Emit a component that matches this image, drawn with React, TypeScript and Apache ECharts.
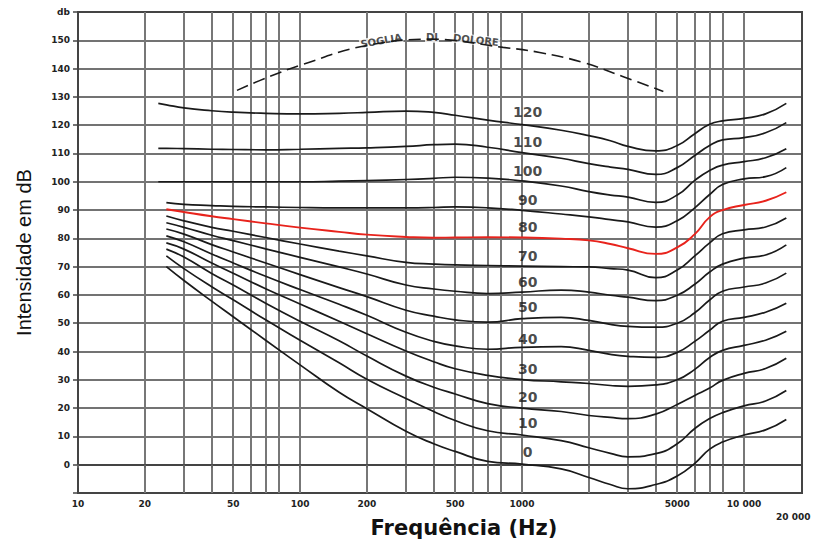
import React, { useEffect, useRef } from "react";
import * as echarts from "echarts";

// Frequencies (Hz) at which the equal-loudness curves were read
const freqs = [23, 25, 30, 40, 50, 70, 100, 150, 200, 300, 400, 500, 700, 1000, 1500, 2000, 2500, 3000, 4000, 5000, 6000, 7000, 8000, 10000, 12500, 15500];

// Curve values (dB) per phon level
const phon120 = [127.7, 127.2, 126.1, 125.1, 124.6, 124.2, 124, 124.2, 124.5, 125, 124.5, 123.5, 121.8, 120.2, 118.2, 116.3, 114.5, 112.5, 110.9, 112.8, 117, 120.3, 121.5, 122.4, 124, 127.7];
const phon110 = [111.8, 111.8, 111.7, 111.5, 111.4, 111.3, 111.5, 111.8, 112, 112.5, 113.1, 113.3, 112.2, 110.3, 108.3, 106.4, 105.2, 104.4, 102.6, 105, 109.3, 112.8, 114.8, 115.6, 117.3, 120.9];
const phon100 = [100, 100, 100, 100, 100, 100, 100, 100.2, 100.4, 100.8, 101.2, 101.6, 101.3, 100.3, 98.5, 96.5, 95.3, 94.6, 92.7, 95.3, 100.5, 104, 105.9, 107.1, 108.5, 111.7];
const phon90 = [null, 92.6, 92, 91.6, 91.3, 91.1, 90.9, 90.8, 90.8, 90.8, 90.9, 91.1, 90.8, 89.9, 88.6, 87.6, 86.6, 85.8, 84, 86.2, 90.8, 95.5, 99, 101, 101.8, 105];
const phon80 = [null, 90.3, 89.3, 87.8, 86.8, 85.3, 83.8, 82.3, 81.3, 80.5, 80.2, 80.3, 80.4, 80.3, 79.9, 79.3, 78, 76.5, 74.5, 76.8, 81.5, 87.5, 90, 91.8, 93.3, 96.3];
const phon70 = [null, 87.9, 86.2, 83.9, 82.5, 80.3, 78, 75.5, 73.8, 71.5, 70.9, 70.6, 70.4, 70.2, 70, 69.9, 69.3, 68.8, 66.1, 68.8, 73.8, 78.4, 81.6, 83, 84, 87.2];
const phon60 = [null, 85.5, 83.9, 81.1, 79.2, 76.3, 73.3, 69.9, 67.4, 63.5, 62.1, 61.3, 60.5, 61, 61.7, 61, 59.9, 59.2, 58, 59.9, 63.8, 68.1, 70.9, 73, 74.1, 77.7];
const phon50 = [null, 83.3, 81.5, 77.8, 75.2, 71.3, 67.2, 62.6, 59.4, 54.6, 52.5, 51.2, 50.4, 51.6, 52.1, 51, 49.6, 48.9, 48.6, 50, 53.7, 58.2, 61.3, 62.8, 64.2, 67.7];
const phon40 = [null, 80.9, 78.8, 74.5, 71.3, 66.6, 61.9, 56.7, 52.8, 46.8, 43.6, 42, 40.8, 41.5, 41.7, 40.4, 39, 38.3, 37.9, 39.7, 43.6, 47.5, 50.7, 52.1, 53.9, 57.1];
const phon30 = [null, 78.4, 76.2, 71.3, 67.7, 62.2, 56.8, 50.7, 46.3, 40.2, 36.4, 33.9, 31.6, 30.1, 29.3, 28.7, 28, 27.7, 28.2, 30, 33.7, 37.9, 40.4, 42.2, 44, 47.2];
const phon20 = [null, 76.2, 73.4, 67.6, 63.5, 57.1, 50.7, 43.8, 38.4, 31.3, 27.4, 25, 21.6, 20, 18.8, 17.4, 16.7, 16.3, 17.9, 21.3, 24.5, 27.1, 29.8, 32.3, 34, 37.6];
const phon10 = [null, 73.8, 69.3, 62.9, 58.3, 51.2, 44, 36, 30.2, 23.4, 18.8, 15.6, 12, 10.5, 8.5, 6, 4, 2.8, 3.9, 7.4, 12.8, 16.3, 18.4, 20.8, 22.5, 26.2];
const phon0 = [null, 70, 65.1, 57.8, 52.3, 44, 35.3, 25.6, 19.8, 11.8, 7.4, 4.7, 1.2, 0.2, -1.5, -4.5, -7, -8.5, -7, -4, 0.5, 5.5, 8, 10.5, 12.3, 16];

const curveNames = ["120", "110", "100", "90", "80", "70", "60", "50", "40", "30", "20", "10", "0"];
const curves = [phon120, phon110, phon100, phon90, phon80, phon70, phon60, phon50, phon40, phon30, phon20, phon10, phon0];

// Curve label anchors
const curveLabelFreq = 1060;
const curveLabelDb = [124.5, 114.2, 103.9, 93.6, 84, 73.8, 64.5, 55.7, 44.3, 34, 24.1, 14.9, 4.6];

// Threshold of pain (dashed)
const painFreqs = [52, 73, 103, 192, 386, 822, 1200, 1880, 2840, 4330];
const painDb = [132.3, 137.2, 141.5, 147.9, 150.4, 147.5, 145.7, 142.2, 137.2, 131.9];
const painWords = ["SOGLIA", "DI", "DOLORE"];
const painWordFreqs = [232, 393, 620];
const painWordDb = [149.9, 150.9, 150.1];

// Axes
const gridFreqs = [10, 20, 30, 40, 50, 60, 70, 80, 100, 200, 300, 400, 500, 600, 700, 800, 1000, 2000, 3000, 4000, 5000, 6000, 7000, 8000, 10000];
const labelFreqs = [10, 20, 50, 100, 200, 500, 1000, 5000, 10000];
const labelTexts = ["10", "20", "50", "100", "200", "500", "1000", "5000", "10 000"];
const extraFreqLabel = "20 000";

const lg = (f: number) => Math.log10(f);

export default function App() {
  const ref = useRef<HTMLDivElement>(null);
  useEffect(() => {
    if (!ref.current) return;
    const chart = echarts.init(ref.current, undefined, { renderer: "svg" });
    const tickFont = { fontFamily: "DejaVu Sans", fontWeight: "bold" as const, fontSize: 9, color: "#222" };

    const lineSeries = curves.map((arr, ci) => ({
      type: "line",
      name: curveNames[ci],
      smooth: 0.5,
      symbol: "none",
      silent: true,
      z: ci === 4 ? 4 : 3,
      lineStyle: {
        color: ci === 4 ? "#e8231c" : "#1a1a1a",
        width: ci === 4 ? 1.9 : 1.7,
      },
      data: freqs
        .map((f, i) => [lg(f), arr[i]])
        .filter((p) => p[1] !== null && p[1] !== undefined),
    }));

    const option: any = {
      animation: false,
      backgroundColor: "#fff",
      grid: { left: 78, right: 16, top: 12, bottom: 52, show: true, borderColor: "#444", borderWidth: 2 },
      xAxis: {
        type: "value",
        min: 1,
        max: 4.261,
        name: "Frequência (Hz)",
        nameLocation: "middle",
        nameGap: 24,
        nameTextStyle: {
          fontFamily: "DejaVu Sans",
          fontWeight: "bold",
          fontSize: 21,
          color: "#111",
          padding: [0, 0, 0, 48],
        },
        axisLine: { show: true, lineStyle: { color: "#444", width: 2 } },
        axisTick: { show: true, customValues: gridFreqs.map(lg), length: 3, lineStyle: { color: "#666", width: 2 } },
        splitLine: { show: true, lineStyle: { color: "#777", width: 2 } },
        axisLabel: {
          customValues: labelFreqs.map(lg),
          margin: 6,
          ...tickFont,
          formatter: (v: number) => {
            const i = labelFreqs.findIndex((f) => Math.abs(lg(f) - v) < 1e-6);
            return i >= 0 ? labelTexts[i] : "";
          },
        },
      },
      yAxis: {
        type: "value",
        min: -10,
        max: 160,
        interval: 10,
        name: "Intensidade em dB",
        nameLocation: "middle",
        nameGap: 44,
        nameTextStyle: { fontFamily: "Liberation Sans", fontSize: 20, color: "#111" },
        axisLine: { show: true, lineStyle: { color: "#444", width: 2 } },
        axisTick: { show: true, length: 5, lineStyle: { color: "#444", width: 1.5 } },
        splitLine: { show: true, lineStyle: { color: "#444", width: 1.5 } },
        axisLabel: {
          margin: 8,
          ...tickFont,
          formatter: (v: number) => (v === 160 ? "db" : v === -10 ? "" : String(v)),
        },
      },
      graphic: [
        {
          type: "text",
          left: 776,
          top: 512,
          style: { text: extraFreqLabel, fill: "#222", font: "bold 9px 'DejaVu Sans'" },
        },
      ],
      series: [
        ...lineSeries,
        {
          type: "line",
          name: "soglia",
          smooth: 0.4,
          symbol: "none",
          silent: true,
          lineStyle: { color: "#1a1a1a", width: 1.6, type: [12, 6] },
          data: painFreqs.map((f, i) => [lg(f), painDb[i]]),
        },
        {
          type: "scatter",
          name: "sogliaText",
          symbolSize: 1,
          silent: true,
          itemStyle: { color: "rgba(0,0,0,0)" },
          label: {
            show: true,
            position: "inside",
            formatter: "{b}",
            fontFamily: "DejaVu Sans",
            fontWeight: "bold",
            fontSize: 10,
            color: "#222",
            backgroundColor: "#fff",
            padding: [0, 1],
          },
          data: painWords.map((w, i) => ({
            name: w,
            value: [lg(painWordFreqs[i]), painWordDb[i]],
            label: { rotate: i === 0 ? 10 : i === 2 ? -6 : 0 },
          })),
        },
        {
          type: "scatter",
          name: "curveLabels",
          symbolSize: 1,
          silent: true,
          itemStyle: { color: "rgba(0,0,0,0)" },
          label: {
            show: true,
            position: "inside",
            formatter: "{b}",
            fontFamily: "DejaVu Sans",
            fontWeight: "bold",
            fontSize: 14,
            color: "#1a1a1a",
          },
          data: curveNames.map((n, i) => ({ name: n, value: [lg(curveLabelFreq), curveLabelDb[i]] })),
        },
      ],
    };
    chart.setOption(option);
    return () => chart.dispose();
  }, []);
  return (
    <div
      ref={ref}
      style={{ position: "fixed", left: 0, top: 0, width: 818, height: 545, background: "#fff" }}
    />
  );
}
